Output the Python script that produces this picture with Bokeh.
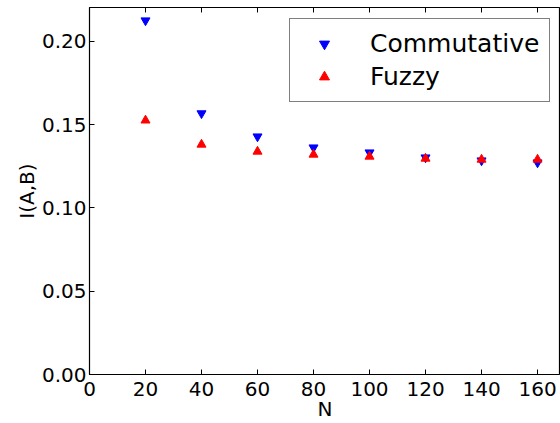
from bokeh.plotting import figure
from bokeh.models import Range1d, LinearAxis, Legend, LegendItem, FixedTicker, CustomJSTickFormatter
from bokeh.embed import file_html
from bokeh.resources import INLINE

N = [20, 40, 60, 80, 100, 120, 140, 160]
commutative = [0.2126, 0.1568, 0.1429, 0.1363, 0.1333, 0.1303, 0.1285, 0.1273]
fuzzy = [0.1526, 0.1381, 0.1339, 0.1321, 0.1309, 0.1297, 0.1291, 0.1291]
x_ticks = [0, 20, 40, 60, 80, 100, 120, 140, 160]
y_ticks = [0.0, 0.05, 0.10, 0.15, 0.20]
y_labels = {0.0: "0.00", 0.05: "0.05", 0.1: "0.10", 0.15: "0.15", 0.2: "0.20"}

FONT = "DejaVu Sans"

p = figure(width=560, height=423, output_backend="svg", toolbar_location=None,
           x_range=Range1d(0, 168.2), y_range=Range1d(0, 0.2204),
           min_border_left=89, min_border_right=0, min_border_top=7, min_border_bottom=49)
p.background_fill_color = "white"
p.border_fill_color = "white"
p.grid.visible = False
p.outline_line_color = "black"
p.outline_line_width = 1.2

r1 = p.scatter(N, commutative, marker="inverted_triangle", size=9, color="blue")
r2 = p.scatter(N, fuzzy, marker="triangle", size=9, color="red")

for ax in (p.xaxis[0], p.yaxis[0]):
    ax.major_tick_in = 5
    ax.major_tick_out = 0
    ax.minor_tick_in = 0
    ax.minor_tick_out = 0
    ax.axis_line_color = None
    ax.major_label_text_font = FONT
    ax.major_label_text_font_size = "20px"
    ax.major_label_text_color = "black"
    ax.axis_label_text_font = FONT
    ax.axis_label_text_font_size = "20px"
    ax.axis_label_text_font_style = "normal"
    ax.axis_label_text_color = "black"

p.xaxis[0].ticker = FixedTicker(ticks=x_ticks)
p.yaxis[0].ticker = FixedTicker(ticks=y_ticks)
p.yaxis[0].major_label_overrides = y_labels
p.xaxis[0].axis_label = "N"
p.yaxis[0].axis_label = "I(A,B)"
p.xaxis[0].major_label_standoff = 7
p.yaxis[0].major_label_standoff = 3
p.xaxis[0].axis_label_standoff = -2
p.yaxis[0].axis_label_standoff = 0

top = LinearAxis(ticker=FixedTicker(ticks=x_ticks), major_tick_in=5, major_tick_out=0,
                 minor_tick_in=0, minor_tick_out=0, axis_line_color=None,
                 formatter=CustomJSTickFormatter(code="return ''"),
                 major_label_standoff=0)
p.add_layout(top, "above")

legend = Legend(items=[LegendItem(label="Commutative", renderers=[r1]),
                       LegendItem(label="Fuzzy", renderers=[r2])],
                location=(200, 272))
legend.label_text_font = FONT
legend.label_text_font_size = "25px"
legend.label_text_color = "black"
legend.border_line_color = "black"
legend.border_line_width = 1
legend.glyph_width = 48
legend.glyph_height = 25
legend.label_height = 25
legend.label_standoff = 22
legend.padding = 10
legend.spacing = 4
legend.margin = 0
legend.background_fill_alpha = 1
p.add_layout(legend, "center")

open("out.html", "w").write(file_html(p, INLINE))
